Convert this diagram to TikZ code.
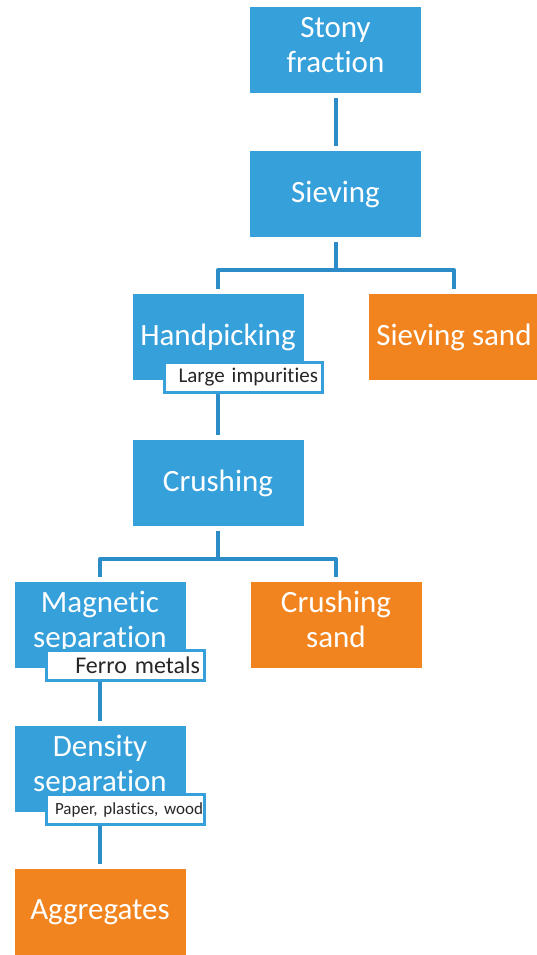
\documentclass[tikz,border=0pt]{standalone}
\usepackage{fontspec}
\setmainfont{Carlito}[Ligatures={NoCommon}]
\usetikzlibrary{positioning}

\definecolor{boxblue}{RGB}{54,160,219}
\definecolor{lineblue}{RGB}{44,140,200}
\definecolor{boxorange}{RGB}{242,132,32}

\begin{document}
\begin{tikzpicture}[
            stepbox/.style={
                rectangle,
                fill=boxblue,
                text=white,
                minimum width=171pt,
                minimum height=86pt,
                inner sep=2pt,
                outer sep=0pt,
                align=center,
                font=\fontsize{31}{35}\selectfont
            },
            sandbox/.style={stepbox, fill=boxorange},
            twoline/.style={text depth=11pt},
            waste/.style={
                rectangle,
                draw=boxblue,
                line width=3pt,
                fill=white,
                text=black!85,
                text width=150pt,
                minimum height=30pt,
                inner xsep=4pt,
                inner ysep=0pt,
                outer sep=0pt,
                align=right,
                font=\fontsize{21}{24}\selectfont\frenchspacing
            },
            link/.style={draw=lineblue, line width=4pt, line join=round, shorten <=5pt, shorten >=5pt}
        ]
        \useasboundingbox (0,0) rectangle (536pt,-955pt);

        % Nodes
        \node[stepbox, twoline] (Stony) at (335.5pt,-50pt) {Stony\\fraction};
        \node[stepbox, below=58pt of Stony] (Sieving) {Sieving};
        \node[stepbox, below=57pt of Sieving, xshift=-117.5pt] (Handpicking) {Handpicking};
        \node[sandbox, right=65pt of Handpicking] (SievingSand) {Sieving sand};
        \node[stepbox, below=60pt of Handpicking] (Crushing) {Crushing};
        \node[stepbox, twoline, below=56pt of Crushing, xshift=-118pt] (Magnetic) {Magnetic\\separation};
        \node[sandbox, twoline, right=65pt of Magnetic] (CrushingSand) {Crushing\\sand};
        \node[stepbox, twoline, below=58pt of Magnetic] (Density) {Density\\separation};
        \node[sandbox, below=57pt of Density] (Aggregates) {Aggregates};

        % Lines
        \draw[link] (Stony) -- (Sieving);
        \draw[link] (Sieving.south) -- ++(0,-33pt) -| (Handpicking.north);
        \draw[link] (Sieving.south) -- ++(0,-33pt) -| (SievingSand.north);
        \draw[link] (Handpicking) -- (Crushing);
        \draw[link] (Crushing.south) -- ++(0,-33pt) -| (Magnetic.north);
        \draw[link] (Crushing.south) -- ++(0,-33pt) -| (CrushingSand.north);
        \draw[link] (Magnetic) -- (Density);
        \draw[link] (Density) -- (Aggregates);

        % Removed fractions
        \node[waste, below right=-17.5pt and 31.5pt of Handpicking.south west] (Impurities) {Large impurities};
        \node[waste, below right=-17.5pt and 31.5pt of Magnetic.south west, font=\fontsize{24}{26}\selectfont] (Ferro) {Ferro metals};
        \node[waste, below right=-17.5pt and 31.5pt of Density.south west, inner xsep=1pt, text width=156pt,
              font=\fontsize{17}{20}\selectfont\frenchspacing] (Paper) {Paper, plastics, wood};

        \end{tikzpicture}
\end{document}
